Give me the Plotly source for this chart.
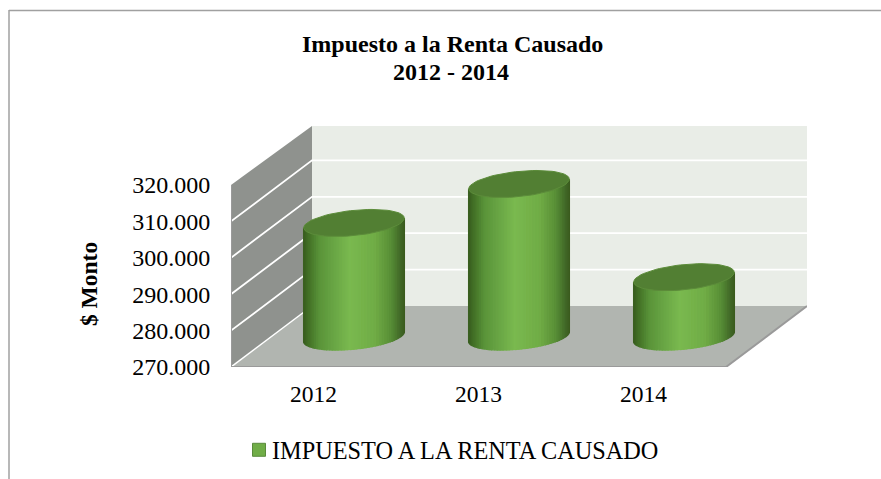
import math
import plotly.graph_objects as go

# ---- data ----
categories = ["2012", "2013", "2014"]
series_name = "IMPUESTO A LA RENTA CAUSADO"
values = [301200, 311900, 286300]
tick_values = [270000, 280000, 290000, 300000, 310000, 320000]
tick_labels = ["270.000", "280.000", "290.000", "300.000", "310.000", "320.000"]

# ---- geometry of the oblique 3D look (pixels -> axis units) ----
W, H = 881, 479
LEFT, RIGHT, BOTTOM, TOP = 231, 807, 367, 124
PX_PER_CAT = 165.0
PX_PER_VAL = 36.4 / 10000.0
DEPTH_PX = (81.0, 61.0)
YMIN = tick_values[0]
YMAX_WALL = tick_values[-1]
YMAX_BACK = YMAX_WALL - 2 / PX_PER_VAL
xr = [-0.5, -0.5 + (RIGHT - LEFT) / PX_PER_CAT]
yr = [YMIN, YMIN + (BOTTOM - TOP) / PX_PER_VAL]
DX = DEPTH_PX[0] / PX_PER_CAT
DY = DEPTH_PX[1] / PX_PER_VAL
XA, XB = -0.5, len(categories) - 0.5


def P(cat, val, depth=0.0):
    return cat + depth * DX, val + depth * DY


def poly(pts):
    return [p[0] for p in pts] + [pts[0][0]], [p[1] for p in pts] + [pts[0][1]]


fig = go.Figure()


def add_fill(pts, color):
    x, y = poly(pts)
    fig.add_trace(go.Scatter(x=x, y=y, mode="lines", fill="toself", fillcolor=color,
                             line=dict(width=0, color=color), showlegend=False,
                             hoverinfo="skip", cliponaxis=False))


def add_line(pts, color, width):
    fig.add_trace(go.Scatter(x=[p[0] for p in pts], y=[p[1] for p in pts], mode="lines",
                             line=dict(width=width, color=color), showlegend=False,
                             hoverinfo="skip", cliponaxis=False))


# walls
add_fill([P(XA, YMIN, 1), P(XB, YMIN, 1), P(XB, YMAX_BACK, 1), P(XA, YMAX_BACK, 1)], "#e9ede7")
add_fill([P(XA, YMIN, 0), P(XA, YMIN, 1), P(XA, YMAX_BACK, 1), P(XA, YMAX_WALL, 0)], "#8f928e")
for t in tick_values[1:-1]:
    add_line([P(XA, t, 0), P(XA, t, 1), P(XB, t, 1)], "#ffffff", 1.8)
add_fill([P(XA, YMIN, 0), P(XB, YMIN, 0), P(XB, YMIN, 1), P(XA, YMIN, 1)], "#b1b5b0")
add_line([P(XA, YMIN, 0), P(XA, YMIN, 1)], "#ffffff", 1.5)
add_line([P(XB, YMIN, 1), P(XB, YMIN, 0), P(XA, YMIN, 0), P(XA, YMAX_WALL, 0)], "#9a9a9a", 2)

# cylinders
A_PX, HX_PX, HY_PX = 47.0, 18.0, 13.5
TH0 = math.atan2(HX_PX, A_PX)
HALF_W = math.hypot(A_PX, HX_PX)
STOPS = [(0.0, (58, 95, 32)), (0.03, (64, 108, 36)), (0.15, (90, 148, 58)), (0.45, (122, 185, 79)),
         (0.7, (112, 172, 70)), (0.86, (88, 142, 54)), (0.95, (66, 106, 40)), (1.0, (58, 90, 30))]


def shade(f):
    for (a, ca), (b, cb) in zip(STOPS, STOPS[1:]):
        if f <= b:
            r = (f - a) / (b - a)
            return "rgb(%d,%d,%d)" % tuple(round(p + (q - p) * r) for p, q in zip(ca, cb))
    return "rgb(58,90,30)"


def ring(i, val, th):
    return P(i + (A_PX * math.cos(th) + HX_PX * math.sin(th)) / PX_PER_CAT,
             val + HY_PX * math.sin(th) / PX_PER_VAL, 0.5)


N = 50
thetas = [TH0 - math.pi * k / N for k in range(N + 1)]
for k in range(N):
    xs, ys = [], []
    mid = (thetas[k] + thetas[k + 1]) / 2
    f = 0.5 + (A_PX * math.cos(mid) + HX_PX * math.sin(mid)) / (2 * HALF_W)
    for i, v in enumerate(values):
        pts = [ring(i, YMIN, thetas[k]), ring(i, YMIN, thetas[k + 1]),
               ring(i, v, thetas[k + 1]), ring(i, v, thetas[k])]
        x, y = poly(pts)
        xs += x + [None]
        ys += y + [None]
    c = shade(f)
    fig.add_trace(go.Scatter(x=xs, y=ys, mode="lines", fill="toself", fillcolor=c,
                             line=dict(width=1.4, color=c), showlegend=False, hoverinfo="skip"))

xs, ys = [], []
for i, v in enumerate(values):
    pts = [ring(i, v, 2 * math.pi * k / 72) for k in range(72)]
    x, y = poly(pts)
    xs += x + [None]
    ys += y + [None]
fig.add_trace(go.Scatter(x=xs, y=ys, mode="lines", fill="toself", fillcolor="#527f33",
                         line=dict(width=1, color="#5c8c3a"), showlegend=False, hoverinfo="skip"))

# legend entry
fig.add_trace(go.Scatter(x=[None], y=[None], mode="markers", name=series_name,
                         marker=dict(symbol="square", size=13, color="#70ad47",
                                     line=dict(width=1, color="#5a8a3c"))))

FONT = "Liberation Serif"
fig.update_layout(
    width=W, height=H, margin=dict(l=0, r=0, t=0, b=0, autoexpand=False),
    paper_bgcolor="#ffffff", plot_bgcolor="rgba(0,0,0,0)",
    font=dict(family=FONT, color="#000000"),
    xaxis=dict(domain=[LEFT / W, RIGHT / W], range=xr, tickmode="array",
               tickvals=list(range(len(categories))), ticktext=categories,
               tickfont=dict(size=23.5, family=FONT), ticks="outside", ticklen=6,
               tickcolor="rgba(0,0,0,0)", showgrid=False, zeroline=False, showline=False),
    yaxis=dict(domain=[1 - BOTTOM / H, 1 - TOP / H], range=yr, tickmode="array",
               tickvals=tick_values, ticktext=tick_labels,
               tickfont=dict(size=24, family=FONT), ticks="outside", ticklen=15,
               tickcolor="rgba(0,0,0,0)", showgrid=False, zeroline=False, showline=False),
    legend=dict(orientation="h", x=455 / W, xanchor="center", y=1 - 450 / H, yanchor="middle",
                font=dict(size=24.3, family=FONT), bgcolor="rgba(0,0,0,0)"),
    annotations=[
        dict(text="<b>Impuesto a la Renta Causado</b>", xref="paper", yref="paper", x=452 / W, y=1 - 44 / H,
             xanchor="center", yanchor="middle", showarrow=False, font=dict(size=24, family=FONT)),
        dict(text="<b>2012 - 2014</b>", xref="paper", yref="paper", x=451 / W, y=1 - 72 / H,
             xanchor="center", yanchor="middle", showarrow=False, font=dict(size=24, family=FONT)),
        dict(text="<b>$ Monto</b>", xref="paper", yref="paper", x=89 / W, y=1 - 284 / H, textangle=-90,
             xanchor="center", yanchor="middle", showarrow=False, font=dict(size=23.5, family=FONT)),
    ],
    shapes=[
        dict(type="line", xref="paper", yref="paper", x0=9 / W, x1=1, y0=1 - 10.5 / H, y1=1 - 10.5 / H,
             line=dict(color="#a0a0a0", width=1.5)),
        dict(type="line", xref="paper", yref="paper", x0=9 / W, x1=9 / W, y0=1 - 10 / H, y1=0,
             line=dict(color="#a0a0a0", width=1.5)),
    ],
)
POST = """
document.body.style.margin='0';document.body.style.overflow='hidden';
document.querySelectorAll('.legendtext').forEach(function(t){
  t.setAttribute('x', parseFloat(t.getAttribute('x')) - 7);
});
"""
fig.write_html("out.html", config=dict(displayModeBar=False), post_script=POST)
